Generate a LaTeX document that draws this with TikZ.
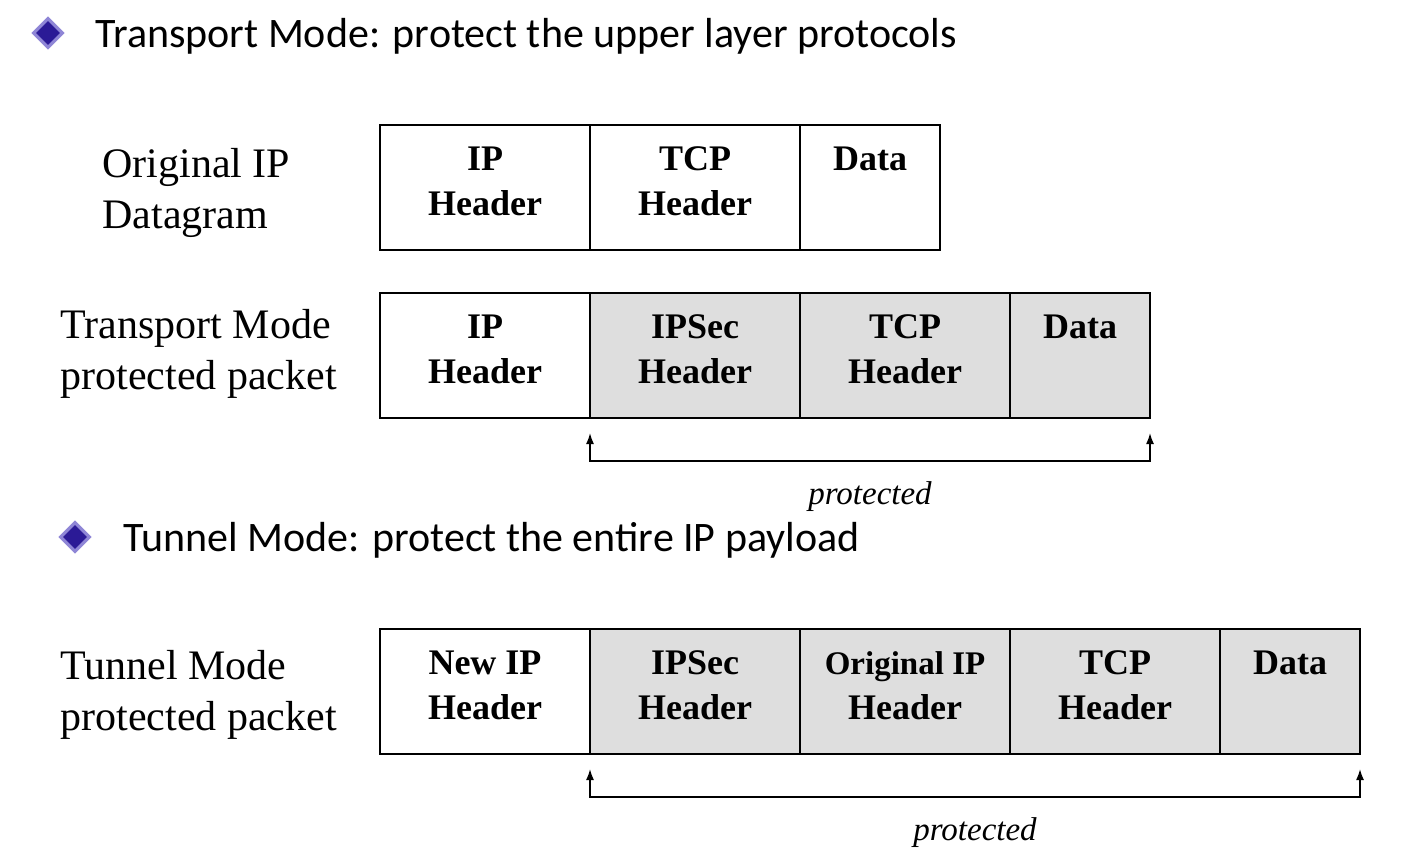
\documentclass[tikz,border=0pt]{standalone}
\usepackage{fontspec}
\setmainfont{Liberation Serif}
\newfontfamily\headfont{Carlito}
\usetikzlibrary{positioning, shapes.geometric, arrows.meta}

\definecolor{boxgray}{HTML}{DEDEDE}
\definecolor{bulletblue}{HTML}{2B1A96}
\definecolor{bulletedge}{HTML}{8F86D6}

\tikzset{
  cell/.style={draw, line width=0.8pt, minimum height=62.5pt, minimum width=105pt, outer sep=0pt, inner sep=0pt},
  prot/.style={cell, fill=boxgray},
  small/.style={minimum width=70pt},
  celltext/.style={anchor=north, inner sep=0pt, align=center, font=\fontsize{18}{22.5}\bfseries\selectfont, yshift=-6.75pt},
  rowlabel/.style={anchor=west, inner sep=0pt, align=left, font=\fontsize{21}{25.5}\selectfont},
  heading/.style={anchor=west, inner sep=0pt, font=\headfont\fontsize{21}{24}\selectfont},
  bullet/.style={diamond, fill=bulletblue, draw=bulletedge, line width=1.6pt, minimum width=15pt, minimum height=15pt, inner sep=0pt},
  bracket/.style={<->, line width=0.8pt, >={Latex[length=5.5pt, width=4pt]}},
  protlbl/.style={below=10pt, inner sep=0pt, font=\fontsize{16.5}{20}\itshape\selectfont}
}

\begin{document}
\begin{tikzpicture}[x=0.5pt, y=-0.5pt]
\useasboundingbox (0,0) rectangle (1406,864);
% Headings
\node[bullet] (b1) at (48,33) {};
\node[heading] (h1) at (95,36) {Transport Mode: protect the upper layer protocols};
\node[bullet] (b2) at (75,537) {};
\node[heading] (h2) at (123,540) {Tunnel Mode: protect the entire IP payload};
% Row labels
\node[rowlabel] (l1) at (102,193) {Original IP\\Datagram};
\node[rowlabel] (l2) at (60,354) {Transport Mode\\protected packet};
\node[rowlabel] (l3) at (60,695) {Tunnel Mode\\protected packet};
% Original datagram
\node[cell, anchor=north west] (r1a) at (380,125) {};
\node[cell, right=0pt of r1a] (r1b) {};
\node[cell, small, right=0pt of r1b] (r1c) {};
\node[celltext] at (r1a.north) {\strut IP\\Header};
\node[celltext] at (r1b.north) {\strut TCP\\Header};
\node[celltext] at (r1c.north) {\strut Data};
% Transport mode
\node[cell, anchor=north west] (r2a) at (380,293) {};
\node[prot, right=0pt of r2a] (r2b) {};
\node[prot, right=0pt of r2b] (r2c) {};
\node[prot, small, right=0pt of r2c] (r2d) {};
\node[celltext] at (r2a.north) {\strut IP\\Header};
\node[celltext] at (r2b.north) {\strut IPSec\\Header};
\node[celltext] at (r2c.north) {\strut TCP\\Header};
\node[celltext] at (r2d.north) {\strut Data};
% Tunnel mode
\node[cell, anchor=north west] (r3a) at (380,629) {};
\node[prot, right=0pt of r3a] (r3b) {};
\node[prot, right=0pt of r3b] (r3c) {};
\node[prot, right=0pt of r3c] (r3d) {};
\node[prot, small, right=0pt of r3d] (r3e) {};
\node[celltext] at (r3a.north) {\strut New IP\\Header};
\node[celltext] at (r3b.north) {\strut IPSec\\Header};
\node[celltext] at (r3c.north) {\strut{\fontsize{16.5}{22.5}\selectfont Original IP}\\Header};
\node[celltext] at (r3d.north) {\strut TCP\\Header};
\node[celltext] at (r3e.north) {\strut Data};
% Brackets
\coordinate (p1a) at ([yshift=-7.5pt]r2b.south west);
\coordinate (p1b) at ([yshift=-21.5pt]r2b.south west);
\coordinate (p1c) at ([yshift=-21.5pt]r2d.south east);
\coordinate (p1d) at ([yshift=-7.5pt]r2d.south east);
\draw[bracket] (p1a) -- (p1b) -- node[protlbl] (t1) {protected} (p1c) -- (p1d);
\coordinate (p2a) at ([yshift=-7.5pt]r3b.south west);
\coordinate (p2b) at ([yshift=-21.5pt]r3b.south west);
\coordinate (p2c) at ([yshift=-21.5pt]r3e.south east);
\coordinate (p2d) at ([yshift=-7.5pt]r3e.south east);
\draw[bracket] (p2a) -- (p2b) -- node[protlbl] (t2) {protected} (p2c) -- (p2d);
\end{tikzpicture}
\end{document}
